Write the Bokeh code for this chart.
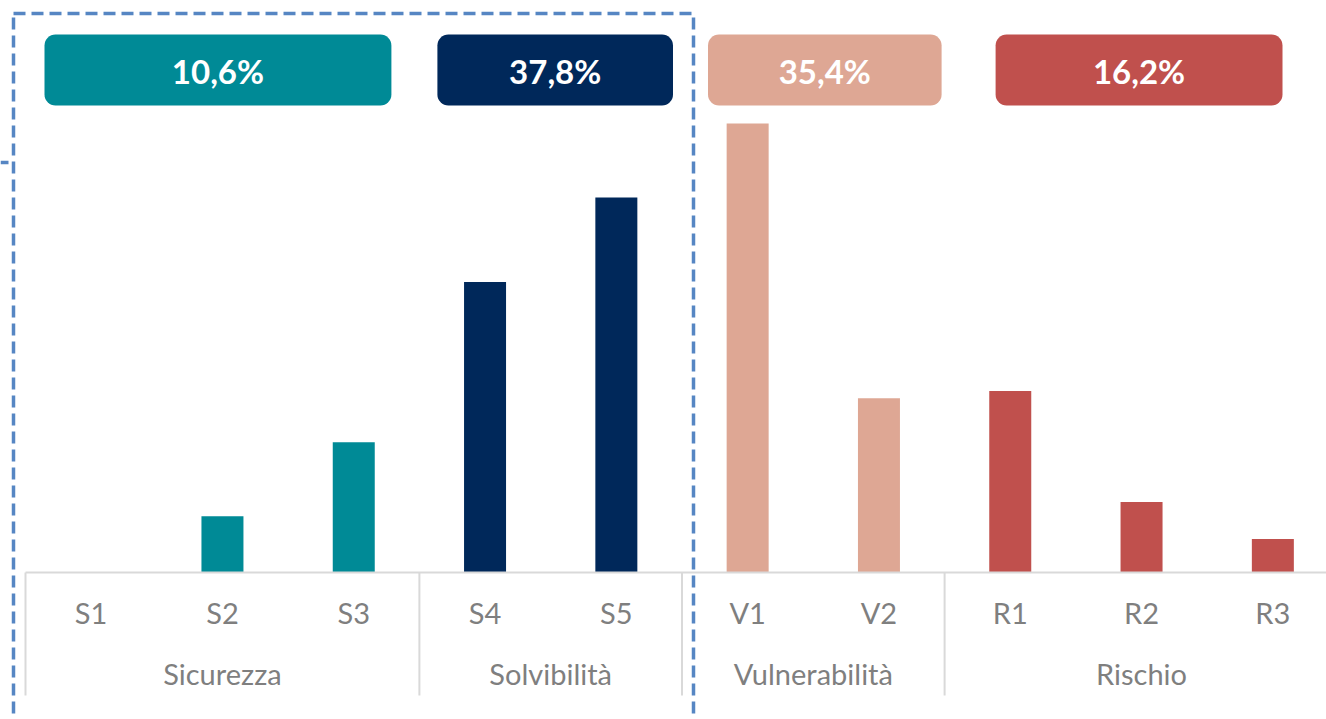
import numpy as np
from bokeh.plotting import figure
from bokeh.models import ColumnDataSource, BoxAnnotation, Range1d
from bokeh.core.properties import value
from bokeh.embed import file_html
from bokeh.resources import INLINE

# ---------------- data ----------------
categories = ["S1", "S2", "S3", "S4", "S5", "V1", "V2", "R1", "R2", "R3"]
values = [0.0, 3.2, 7.4, 16.5, 21.3, 25.5, 9.9, 10.3, 4.0, 1.9]
groups = ["Sicurezza", "Solvibilità", "Vulnerabilità", "Rischio"]
group_sizes = [3, 2, 2, 3]
group_colors = ["#008A96", "#00285A", "#DEA794", "#C0504D"]

# ---------------- layout / style ----------------
W, H = 1326, 719
OFF = 0
UNIT = 131.3       # px per category
PX = 17.61         # px per percentage point
BASE_REF = 572     # baseline (reference px)
LEFT_REF = 25      # left edge of first category (reference px)
TXT_SHIFT = 13     # svg baseline compensation (px)
FONT = "Lato"
LABEL_COLOR = "#7F7F7F"
GRID_COLOR = "#D9D9D9"
DASH_COLOR = "#5686C3"

# px insets of the header boxes from their group edges (left, right)
box_insets = [(19, 28), (18, 9), (26, 3), (51, 56)]


def dx(ref_x):
    return -0.5 + (ref_x - LEFT_REF) / UNIT


def dy(ref_y):
    return (BASE_REF - ref_y) / PX


p = figure(width=W, height=H,
           x_range=Range1d(dx(OFF), dx(OFF + W)),
           y_range=Range1d(dy(OFF + H), dy(OFF)),
           output_backend="svg", toolbar_location=None,
           x_axis_type=None, y_axis_type=None,
           min_border=0, outline_line_color=None)
p.grid.visible = False
p.background_fill_color = "white"
p.border_fill_color = "white"

# per-bar group info
bar_group = np.repeat(np.arange(len(groups)), group_sizes)
xs = np.arange(len(categories))
src = ColumnDataSource(dict(
    x=xs, top=values, cat=categories,
    color=[group_colors[g] for g in bar_group],
))

p.vbar(x="x", top="top", bottom=0, width=42 / UNIT, color="color",
       line_color=None, source=src)

# axis line
p.segment(x0=[-0.5], y0=[0], x1=[len(categories) - 0.5], y1=[0],
          line_color=GRID_COLOR, line_width=2)

# group separators
bounds = -0.5 + np.concatenate([[0], np.cumsum(group_sizes)])
p.segment(x0=bounds, y0=np.zeros(len(bounds)), x1=bounds,
          y1=np.full(len(bounds), dy(695)),
          line_color=GRID_COLOR, line_width=2)

# category labels
p.text(x="x", y=dy(625 - TXT_SHIFT), text="cat", source=src,
       text_font=value(FONT), text_font_size="29px",
       text_color=LABEL_COLOR, text_align="center",
       text_baseline="alphabetic")

# group labels
centers = (bounds[:-1] + bounds[1:]) / 2
p.text(x=centers, y=np.full(len(groups), dy(686 - TXT_SHIFT)), text=groups,
       text_font=value(FONT), text_font_size="29px",
       text_color=LABEL_COLOR, text_align="center",
       text_baseline="alphabetic")

# header boxes with group totals
starts = np.concatenate([[0], np.cumsum(group_sizes)[:-1]])
totals = [sum(values[s:s + n]) for s, n in zip(starts, group_sizes)]
total_txt = [f"{t:.1f}".replace(".", ",") + "%" for t in totals]
box_cx = []
for i, (l_in, r_in) in enumerate(box_insets):
    left = bounds[i] + l_in / UNIT
    right = bounds[i + 1] - r_in / UNIT
    box_cx.append((left + right) / 2)
    p.add_layout(BoxAnnotation(left=left, right=right,
                               top=dy(34), bottom=dy(105),
                               fill_color=group_colors[i], fill_alpha=1,
                               line_color=None, border_radius=11,
                               level="underlay"))
p.text(x=box_cx, y=np.full(len(groups), dy(83 - TXT_SHIFT)), text=total_txt,
       text_font=value(FONT), text_font_size="33px", text_font_style="bold",
       text_color="white", text_align="center", text_baseline="alphabetic")

# dashed highlight frame
p.add_layout(BoxAnnotation(left=dx(13), right=dx(693), top=dy(13),
                           bottom=dy(790), fill_alpha=0,
                           line_color=DASH_COLOR, line_alpha=1, line_width=3.5,
                           line_dash="12 6"))
p.segment(x0=[dx(0)], y0=[dy(162)], x1=[dx(13)], y1=[dy(162)],
          line_color=DASH_COLOR, line_width=3.5, line_dash="8 5")

open("out.html", "w").write(file_html(p, INLINE))
